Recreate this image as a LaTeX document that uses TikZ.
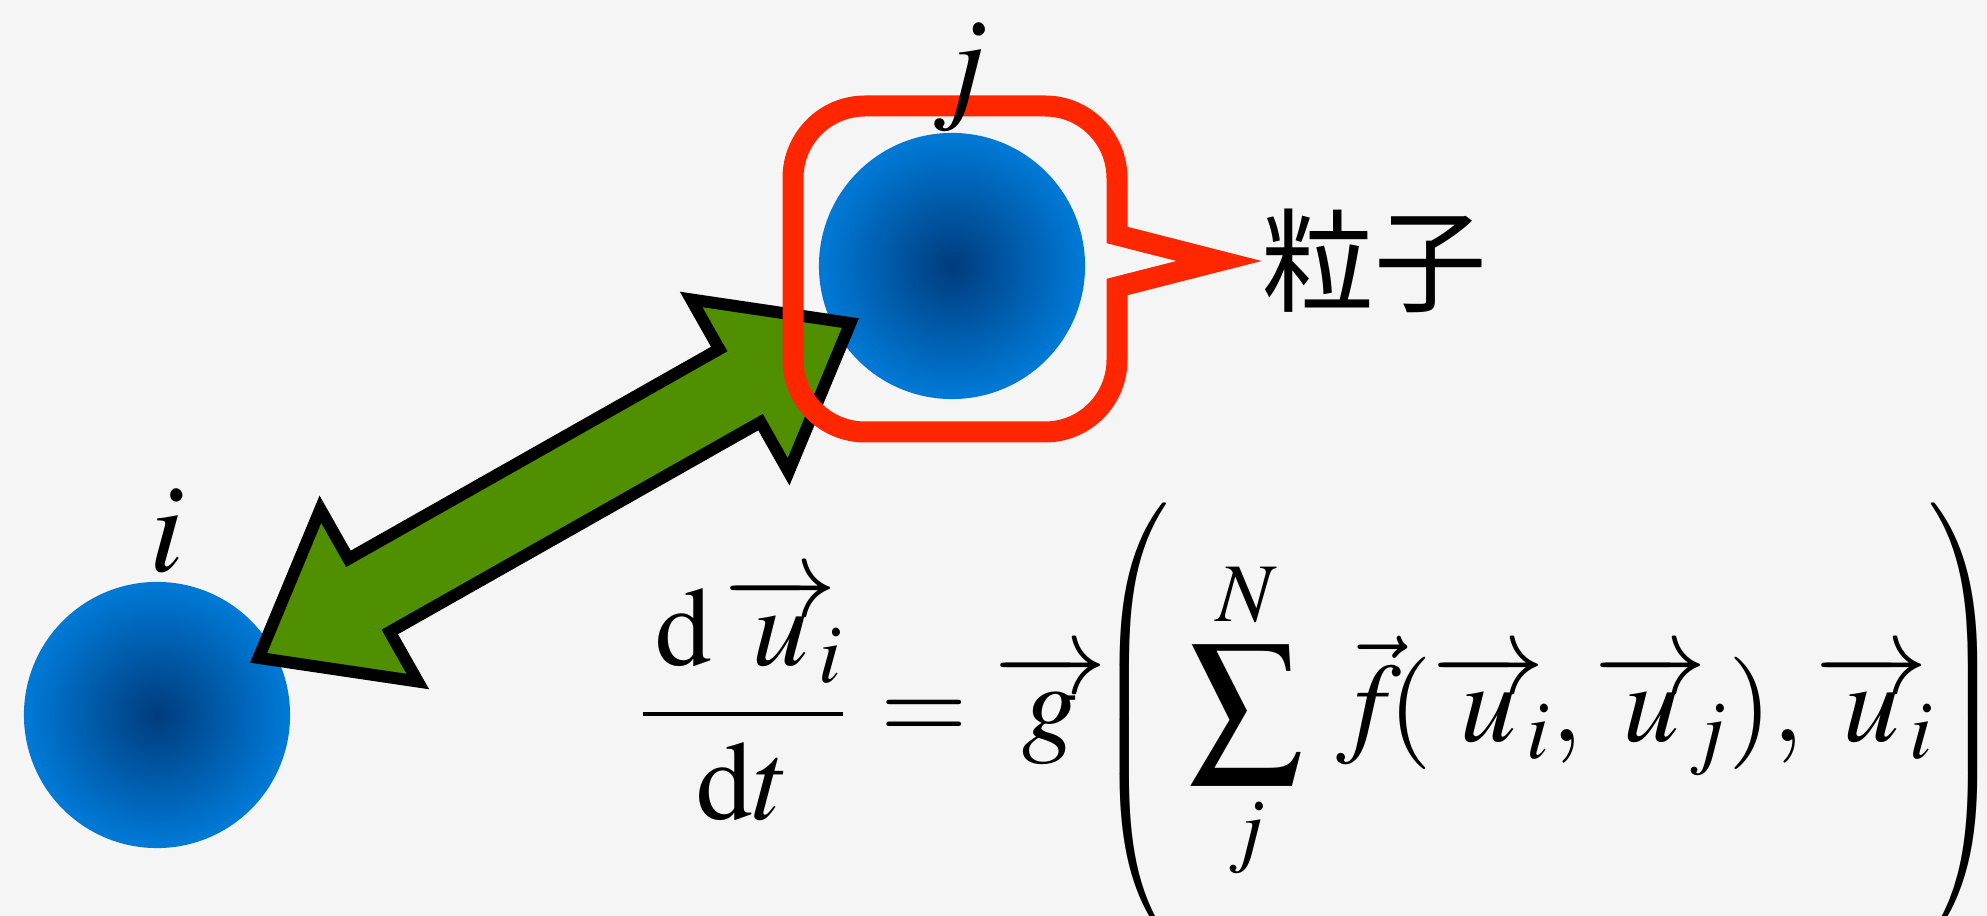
\documentclass[tikz,border=0pt]{standalone}
\usepackage{amsmath}
\usepackage{mathptmx}
\usepackage{graphicx}
\usepackage[no-math]{fontspec}
\newfontfamily\cjk{Noto Sans CJK JP}
\usepackage{tikz}
\usetikzlibrary{positioning, calc}
\definecolor{paper}{RGB}{245,245,245}
\definecolor{ballcore}{RGB}{0,60,125}
\definecolor{ballrim}{RGB}{0,120,212}
\definecolor{calloutred}{RGB}{255,38,0}
\definecolor{linkgreen}{RGB}{79,143,0}
\pgfdeclareradialshading{ballshade}{\pgfpoint{0bp}{0bp}}{color(0bp)=(ballcore); color(24bp)=(ballrim); color(50bp)=(ballrim)}
\newcommand{\uvec}[1]{\overrightarrow{u}_{\mkern-4mu#1}}
\newcommand{\bigpar}[1]{\scalebox{1}[1.07]{\fontsize{24}{28}\selectfont$#1$}}

\begin{document}
\begin{tikzpicture}[
    x=0.01cm, y=-0.01cm,
    ball/.style={circle, minimum size=2.66cm, inner sep=0pt, shade, shading=ballshade},
    idx/.style={inner sep=0pt, font=\fontsize{36}{40}\selectfont},
    eqn/.style={inner sep=0pt, anchor=base west, font=\fontsize{32}{38}\selectfont},
    link/.style={draw=black, fill=linkgreen, line width=0.12cm, line join=miter},
    callout/.style={draw=calloutred, line width=0.21cm, line join=miter}
]
\useasboundingbox (0,0) rectangle (1987,916);
\fill[paper] (0,0) rectangle (1987,916);
\clip (0,0) rectangle (1987,916);

% -------- Particles --------
\node[ball] (bi) at (157,715) {};
\node[ball] (bj) at (952,266) {};

% -------- Interaction arrow i <-> j --------
\begin{scope}[shift={($(bi)!0.5!(bj)$)}, rotate=29.5]
  \draw[link] (-340,0) -- (-213,99) -- (-213,42) -- (213,42) -- (213,99)
    -- (340,0) -- (213,-99) -- (213,-42) -- (-213,-42) -- (-213,-99) -- cycle;
\end{scope}

% -------- Callout round particle j --------
\begin{scope}[shift={(bj)}]
  \draw[callout] (165,-31) [rounded corners=0.72cm] -- (165,-160) -- (-159,-160)
    -- (-159,166) -- (165,166) [sharp corners] -- (165,21) -- (267,-5) -- cycle;
  \coordinate (tip) at (267,-5);
\end{scope}

% -------- Labels --------
\node[idx, above=0.08cm of bi, xshift=0.1cm] (li) {$i$};
\node[idx, above=0pt of bj, xshift=0.08cm] (lj) {$j$};
\node[inner sep=0pt, font=\cjk\fontsize{32}{38}\selectfont, right=0.42cm of tip] (name) {粒子};

% -------- Equation of motion --------
\node[eqn] (frac)  at (638,742)  {$\dfrac{\,\mathrm{d}\,\uvec{i}}{\mathrm{d}t}$};
\node[eqn] (eq)    at (880,742)  {$=$};
\node[eqn] (g)     at (994,742)  {$\overrightarrow{g}$};
\node[eqn] (lpar)  at (1095,742) {\bigpar{\left(\vcenter{\hrule height 117pt width 0pt}\right.}};
\node[eqn] (sum)   at (1188,742) {$\displaystyle\sum_{j}^{N}$};
\node[eqn] (fterm) at (1336,742) {$\vec{f}\!(\uvec{i},\uvec{j}),\uvec{i}$};
\node[eqn] (rpar)  at (1924,742) {\bigpar{\left.\vcenter{\hrule height 117pt width 0pt}\right)}};

\end{tikzpicture}
\end{document}
